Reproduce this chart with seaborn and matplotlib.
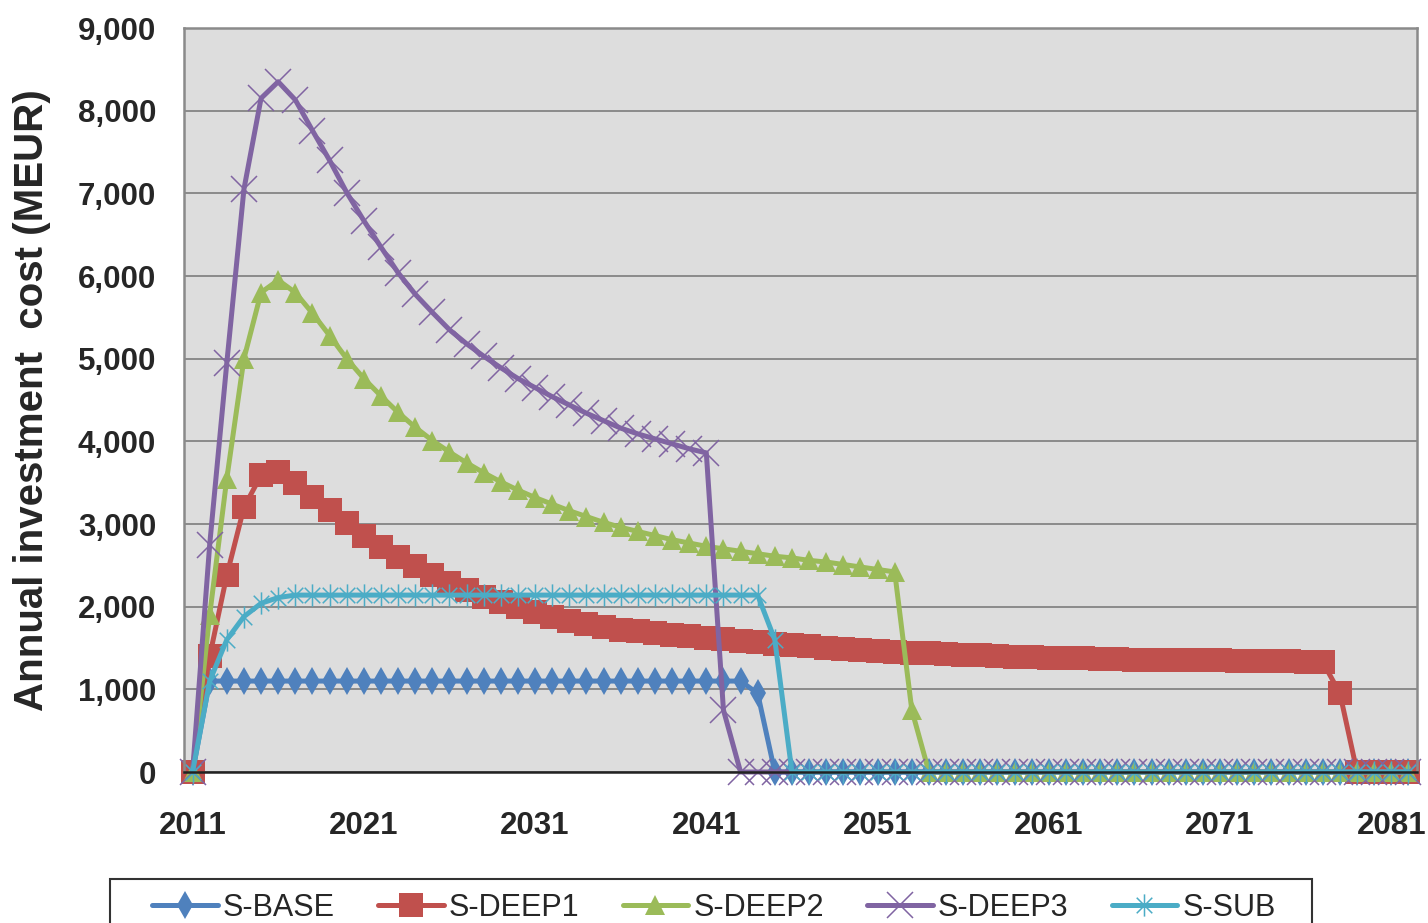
import matplotlib
matplotlib.use("Agg")
import matplotlib.pyplot as plt
from matplotlib.path import Path
from matplotlib.patches import Rectangle
from matplotlib.ticker import FuncFormatter
import seaborn as sns

# one value per year, 2011 .. 2082
years = list(range(2011, 2083))

s_base = [
    0, 1100, 1100, 1100, 1100, 1100, 1100, 1100, 1100, 1100,
    1100, 1100, 1100, 1100, 1100, 1100, 1100, 1100, 1100, 1100,
    1100, 1100, 1100, 1100, 1100, 1100, 1100, 1100, 1100, 1100,
    1100, 1100, 1100, 950, 0, 0, 0, 0, 0, 0,
    0, 0, 0, 0, 0, 0, 0, 0, 0, 0,
    0, 0, 0, 0, 0, 0, 0, 0, 0, 0,
    0, 0, 0, 0, 0, 0, 0, 0, 0, 0,
    0, 0,
]
s_deep1 = [
    0, 1400, 2380, 3200, 3590, 3630, 3490, 3330, 3170, 3010,
    2860, 2720, 2600, 2490, 2380, 2290, 2200, 2120, 2060, 2000,
    1940, 1880, 1830, 1790, 1750, 1720, 1700, 1680, 1660, 1645,
    1625, 1605, 1590, 1570, 1550, 1535, 1520, 1505, 1490, 1475,
    1465, 1455, 1445, 1435, 1425, 1420, 1410, 1405, 1395, 1390,
    1385, 1380, 1375, 1370, 1365, 1360, 1360, 1355, 1355, 1350,
    1350, 1345, 1345, 1340, 1340, 1335, 1330, 950, 0, 0,
    0, 0,
]
s_deep2 = [
    0, 1900, 3550, 5000, 5800, 5950, 5800, 5550, 5280, 5000,
    4760, 4550, 4350, 4170, 4010, 3870, 3740, 3620, 3510, 3410,
    3320, 3240, 3160, 3090, 3020, 2960, 2910, 2860, 2810, 2770,
    2730, 2700, 2670, 2640, 2610, 2590, 2560, 2540, 2510, 2480,
    2450, 2420, 750, 0, 0, 0, 0, 0, 0, 0,
    0, 0, 0, 0, 0, 0, 0, 0, 0, 0,
    0, 0, 0, 0, 0, 0, 0, 0, 0, 0,
    0, 0,
]
s_deep3 = [
    0, 2750, 4950, 7050, 8150, 8350, 8130, 7760, 7400, 7010,
    6670, 6350, 6040, 5780, 5560, 5350, 5180, 5030, 4890, 4760,
    4650, 4540, 4440, 4340, 4250, 4160, 4090, 4030, 3970, 3910,
    3860, 750, 0, 0, 0, 0, 0, 0, 0, 0,
    0, 0, 0, 0, 0, 0, 0, 0, 0, 0,
    0, 0, 0, 0, 0, 0, 0, 0, 0, 0,
    0, 0, 0, 0, 0, 0, 0, 0, 0, 0,
    0, 0,
]
s_sub = [
    0, 1100, 1600, 1880, 2040, 2110, 2140, 2140, 2140, 2140,
    2140, 2140, 2140, 2140, 2140, 2140, 2140, 2140, 2140, 2140,
    2140, 2140, 2140, 2140, 2140, 2140, 2140, 2140, 2140, 2140,
    2140, 2140, 2140, 2140, 1600, 0, 0, 0, 0, 0,
    0, 0, 0, 0, 0, 0, 0, 0, 0, 0,
    0, 0, 0, 0, 0, 0, 0, 0, 0, 0,
    0, 0, 0, 0, 0, 0, 0, 0, 0, 0,
    0, 0,
]

names = ["S-BASE", "S-DEEP1", "S-DEEP2", "S-DEEP3", "S-SUB"]
series = [s_base, s_deep1, s_deep2, s_deep3, s_sub]
colors = ["#4F81BD", "#C0504D", "#9BBB59", "#8064A2", "#4BACC6"]

# excel style "star": an X with a vertical bar through it
star = Path(
    [(0, -1), (0, 1), (-0.7, -0.7), (0.7, 0.7), (-0.7, 0.7), (0.7, -0.7)],
    [Path.MOVETO, Path.LINETO, Path.MOVETO, Path.LINETO, Path.MOVETO, Path.LINETO],
)
marker_styles = [
    dict(marker="d", markersize=14, markeredgewidth=0),
    dict(marker="s", markersize=17, markeredgewidth=0),
    dict(marker="^", markersize=14.5, markeredgewidth=0),
    dict(marker="x", markersize=19, markeredgewidth=1.1),
    dict(marker=star, markersize=16, markeredgewidth=1.1),
]

sns.set_style("white")
plt.rcParams["font.family"] = ["Liberation Sans", "DejaVu Sans"]

W, H = 1428, 923
fig = plt.figure(figsize=(W / 100, H / 100), dpi=100)
ax = fig.add_axes([184 / W, 1 - 772 / H, (1417 - 184) / W, (772 - 28) / H])
ax.set_facecolor("#dddddd")

for name, vals, col, ms in zip(names, series, colors, marker_styles):
    sns.lineplot(x=years, y=vals, ax=ax, color=col, linewidth=3.6, label=name,
                 markeredgecolor=col, markerfacecolor=col, clip_on=False, **ms)

ax.set_xlim(2010.5, 2082.5)
ax.set_ylim(0, 9000)
ax.set_xticks(range(2011, 2082, 10))
ax.set_yticks(range(0, 9001, 1000))
ax.yaxis.set_major_formatter(FuncFormatter(lambda v, p: f"{int(v):,}"))
ax.tick_params(axis="y", length=0, pad=20, labelsize=22.5)
ax.tick_params(axis="x", length=0, pad=28, labelsize=22.5)
for lbl in ax.get_xticklabels() + ax.get_yticklabels():
    lbl.set_fontweight("bold")
ax.set_xlabel("")
ax.set_ylabel("")

ax.yaxis.grid(True, color="#8a8a8a", linewidth=1.4)
ax.set_axisbelow(True)
for side in ["left", "top", "right"]:
    ax.spines[side].set_color("#8a8a8a")
    ax.spines[side].set_linewidth(1.8)
ax.spines["bottom"].set_color("#222222")
ax.spines["bottom"].set_linewidth(1.8)

fig.text(32 / W, 1 - 400 / H, "Annual investment  cost (MEUR)", rotation=90,
         ha="center", va="center", fontsize=29, fontweight="bold")

# legend sits at the bottom edge, its box runs off the canvas like the original
handles, labels = ax.get_legend_handles_labels()
ax.get_legend().remove()
fig.legend(handles, labels, loc="center left", bbox_to_anchor=(152 / W, 1 - 908 / H),
           ncol=5, frameon=False, fontsize=22, handlelength=2.15, handletextpad=0.16,
           columnspacing=1.42, borderpad=0, borderaxespad=0)
fig.patches.append(Rectangle((110 / W, -0.05), (1312 - 110) / W, (1 - 879 / H) + 0.05,
                             transform=fig.transFigure, fill=False,
                             edgecolor="#333333", linewidth=1.5))

fig.savefig("out.png", dpi=100)
